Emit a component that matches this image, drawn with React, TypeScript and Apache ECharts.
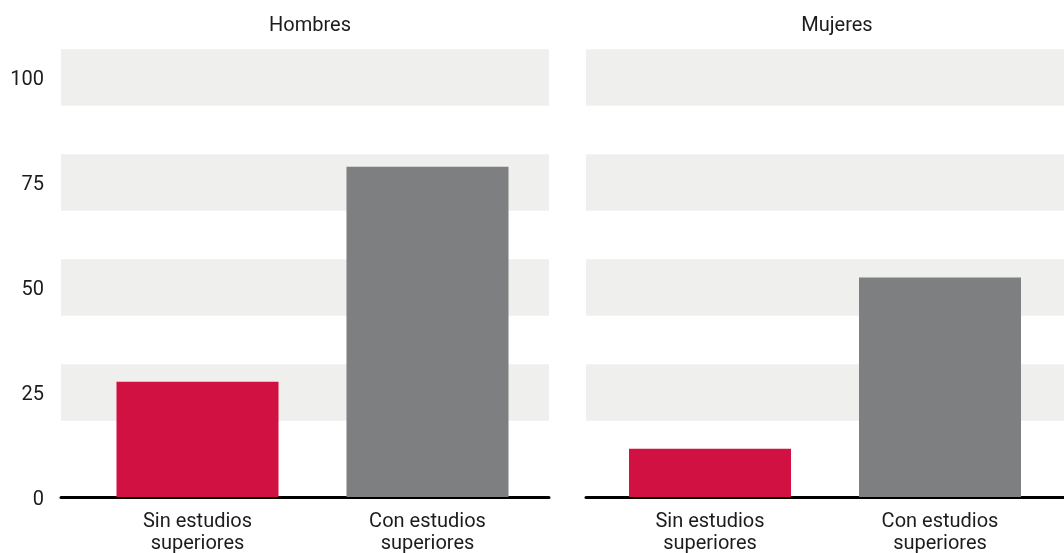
import React, { useEffect, useRef } from "react";
import * as echarts from "echarts";

const categories = ["Sin estudios\nsuperiores", "Con estudios\nsuperiores"];
const hombres = [27.5, 78.7];
const mujeres = [11.5, 52.3];
const yTicks = [0, 25, 50, 75, 100];
const panelTitles = ["Hombres", "Mujeres"];
const barColors = ["#d01142", "#7e7f81"];

const FONT = "Roboto, sans-serif";
const TEXT = "#1c1c1c";
const BAND = "#efefed";
const Y_MAX = 110;
const BAND_HALF = 6.7;

export default function App() {
  const ref = useRef<HTMLDivElement>(null);

  useEffect(() => {
    if (!ref.current) return;
    const chart = echarts.init(ref.current, undefined, { renderer: "svg" });

    const top = 35.5;
    const height = 462;
    const bgGrids = [
      { left: 61, width: 488 },
      { left: 586, width: 488 },
    ];
    const barGrids = [
      { left: 82.5, width: 460 },
      { left: 595, width: 460 },
    ];
    const grids: any[] = [];
    bgGrids.forEach((g) => grids.push({ ...g, top, height }));
    barGrids.forEach((g) => grids.push({ ...g, top, height }));

    const xAxes: any[] = [];
    const yAxes: any[] = [];
    const series: any[] = [];

    // background grids: 0,1
    for (let i = 0; i < 2; i++) {
      xAxes.push({
        type: "category",
        gridIndex: i,
        data: [""],
        axisLine: { show: true, lineStyle: { color: "#000", width: 3 } },
        axisTick: { show: false },
        axisLabel: { show: false },
        splitLine: { show: false },
      });
      yAxes.push({
        type: "value",
        gridIndex: i,
        min: 0,
        max: Y_MAX,
        interval: 25,
        axisLine: { show: false },
        axisTick: { show: false },
        splitLine: { show: false },
        axisLabel: {
          show: i === 0,
          margin: 17,
          fontSize: 20,
          color: TEXT,
          fontFamily: FONT,
          formatter: (v: number) => (yTicks.includes(v) ? String(v) : ""),
        },
      });
      series.push({
        type: "line",
        xAxisIndex: i,
        yAxisIndex: i,
        data: [],
        silent: true,
        markArea: {
          silent: true,
          itemStyle: { color: BAND },
          data: yTicks
            .filter((t) => t > 0)
            .map((t) => [{ yAxis: t - BAND_HALF }, { yAxis: t + BAND_HALF }]),
        },
      });
    }

    // bar grids: 2,3
    const values = [hombres, mujeres];
    for (let i = 0; i < 2; i++) {
      const gi = i + 2;
      xAxes.push({
        type: "category",
        gridIndex: gi,
        data: categories,
        axisLine: { show: false },
        axisTick: { show: false },
        axisLabel: {
          margin: 12,
          fontSize: 20,
          lineHeight: 22,
          color: TEXT,
          fontFamily: FONT,
          interval: 0,
        },
      });
      yAxes.push({
        type: "value",
        gridIndex: gi,
        min: 0,
        max: Y_MAX,
        interval: 25,
        show: false,
        splitLine: { show: false },
      });
      series.push({
        type: "bar",
        xAxisIndex: gi,
        yAxisIndex: gi,
        barWidth: 162,
        data: values[i].map((v, k) => ({ value: v, itemStyle: { color: barColors[k] } })),
        z: 3,
      });
    }

    chart.setOption({
      animation: false,
      textStyle: { fontFamily: FONT },
      grid: grids,
      xAxis: xAxes,
      yAxis: yAxes,
      series,
      graphic: [
        {
          type: "text",
          x: 310,
          y: 24,
          style: {
            text: panelTitles[0],
            textAlign: "center",
            textVerticalAlign: "middle",
            fontSize: 20,
            fontFamily: FONT,
            fill: TEXT,
          },
        },
        {
          type: "text",
          x: 837,
          y: 24,
          style: {
            text: panelTitles[1],
            textAlign: "center",
            textVerticalAlign: "middle",
            fontSize: 20,
            fontFamily: FONT,
            fill: TEXT,
          },
        },
      ],
    });

    return () => chart.dispose();
  }, []);

  return (
    <div
      ref={ref}
      style={{ position: "fixed", left: 0, top: 0, width: 1064, height: 553 }}
    />
  );
}
